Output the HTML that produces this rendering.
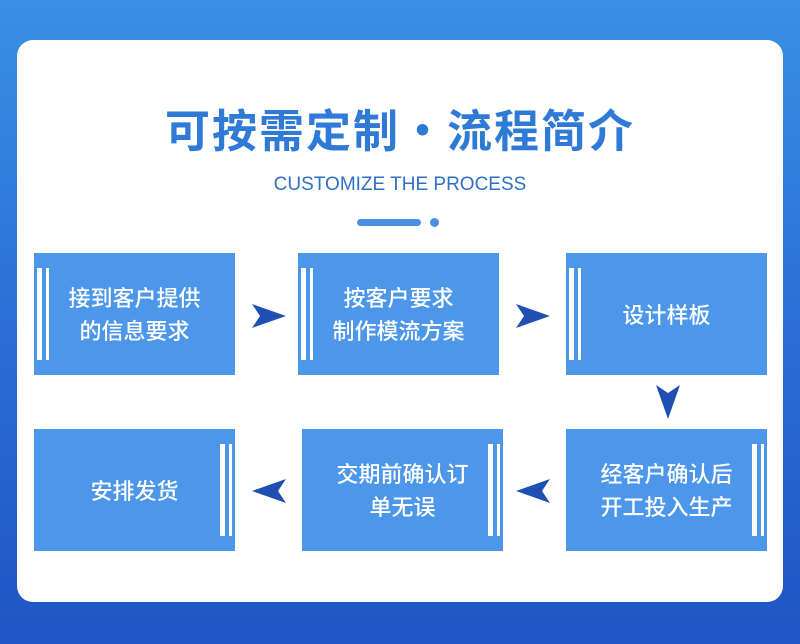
<!DOCTYPE html>
<html><head><meta charset="utf-8"><style>
*{margin:0;padding:0;box-sizing:border-box}
body{width:800px;height:644px;overflow:hidden;background:linear-gradient(180deg,#3a8fe6 0%,#2a6fd6 50%,#1f55c4 100%);position:relative;font-family:"Liberation Sans","Noto Sans CJK SC",sans-serif}
.card{position:absolute;left:17px;top:40px;width:766px;height:562px;background:#fff;border-radius:16px}
.title{position:absolute;left:0;width:800px;top:95px;text-align:center;font-size:45px;font-weight:bold;color:#2e7ad6;letter-spacing:2px;font-family:"Noto Sans CJK SC",sans-serif}
.sub{position:absolute;left:0;width:800px;top:174px;text-align:center;font-size:19px;color:#2f6fc6}
.bar{position:absolute;left:357px;top:219px;width:64px;height:7px;border-radius:4px;background:#4a90e2}
.dot{position:absolute;left:430px;top:218px;width:9px;height:9px;border-radius:50%;background:#4a90e2}
.box{position:absolute;width:201px;height:122px;background:#4d97ea;color:#fff;font-family:"Noto Sans CJK SC",sans-serif;font-weight:500;font-size:22px;line-height:33px;display:flex;align-items:center;justify-content:center;text-align:center}
.b{position:absolute;top:15px;height:92px;width:12px;border-left:5px solid #fff;border-right:3px solid #fff}
.arr{position:absolute}
</style></head><body>
<div class="card"></div>
<div class="title">可按需定制·流程简介</div>
<div class="sub">CUSTOMIZE THE PROCESS</div>
<div class="bar"></div><div class="dot"></div>

<div class="box" style="left:34px;top:253px"><div class="b" style="left:3px"></div>接到客户提供<br>的信息要求</div>
<div class="box" style="left:298px;top:253px"><div class="b" style="left:3px"></div>按客户要求<br>制作模流方案</div>
<div class="box" style="left:566px;top:253px"><div class="b" style="left:3px"></div>设计样板</div>
<div class="box" style="left:34px;top:429px"><div class="b" style="right:3px"></div>安排发货</div>
<div class="box" style="left:302px;top:429px"><div class="b" style="right:3px"></div>交期前确认订<br>单无误</div>
<div class="box" style="left:566px;top:429px"><div class="b" style="right:3px"></div>经客户确认后<br>开工投入生产</div>

<svg class="arr" style="left:0;top:0" width="800" height="644">
<g fill="#1f4fb3">
<polygon points="252,304 286,316 252,328 260,316"/>
<polygon points="516,304 550,316 516,328 524,316"/>
<polygon points="656,385 668,419 680,385 668,393"/>
<polygon points="550,479 516,491 550,503 542,491"/>
<polygon points="286,479 252,491 286,503 278,491"/>
</g>
</svg>
</body></html>
